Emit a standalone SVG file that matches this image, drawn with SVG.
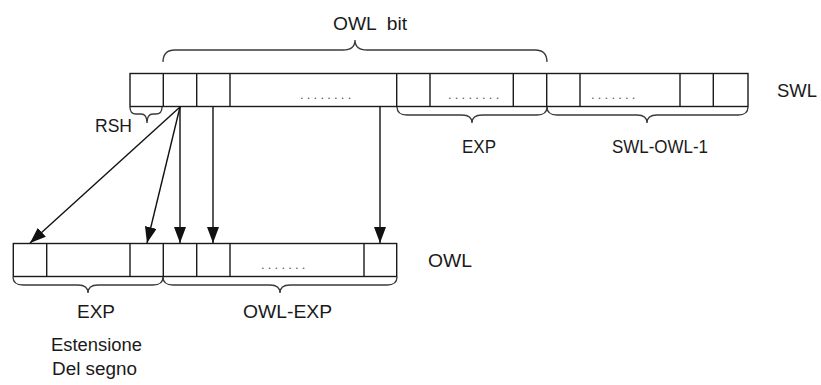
<svg xmlns="http://www.w3.org/2000/svg" width="821" height="385" viewBox="0 0 821 385">
<style>
.bg{fill:#ffffff}
.cell{fill:none;stroke:#1a1a1a;stroke-width:1.4}
.brace{fill:none;stroke:#3a3a3a;stroke-width:1.3}
.arrow{fill:none;stroke:#111111;stroke-width:1.4}
.lbl{font-family:"Liberation Sans",Arial,sans-serif;font-size:18px;fill:#1a1a1a}
.dots{font-family:"Liberation Sans",Arial,sans-serif;font-size:13px;fill:#555555;letter-spacing:3.2px}
</style>
<defs>
<marker id="ah" markerUnits="userSpaceOnUse" markerWidth="16" markerHeight="12" refX="16" refY="6" orient="auto">
<path d="M0,0 L16,6 L0,12 z" fill="#111111"/>
</marker>
</defs>
<rect class="bg" x="0" y="0" width="821" height="385"/>

<g id="swl-register">
<rect class="cell" x="130" y="73.5" width="618" height="33"/>
<path class="cell" d="M163.3,73.5V106.5M196.7,73.5V106.5M230,73.5V106.5M396.7,73.5V106.5M430,73.5V106.5M513.3,73.5V106.5M546.7,73.5V106.5M580,73.5V106.5M680,73.5V106.5M713.3,73.5V106.5"/>
<text class="dots" x="300" y="99">........</text>
<text class="dots" x="448" y="99">........</text>
<text class="dots" x="591" y="99">.......</text>
<text class="lbl" x="777" y="97" textLength="40" lengthAdjust="spacingAndGlyphs">SWL</text>
</g>

<g id="owl-register">
<rect class="cell" x="13.3" y="243.5" width="383.4" height="33"/>
<path class="cell" d="M46.7,243.5V276.5M130,243.5V276.5M163.3,243.5V276.5M196.7,243.5V276.5M230,243.5V276.5M364,243.5V276.5"/>
<text class="dots" x="261" y="269">.......</text>
<text class="lbl" x="428" y="267" textLength="44" lengthAdjust="spacingAndGlyphs">OWL</text>
</g>

<g id="brace-owlbit">
<path class="brace" d="M163,62 Q163,50 175,50 L343,50 Q355,50 355,40 Q355,50 367,50 L535,50 Q547,50 547,62"/>
<text class="lbl" x="333" y="30" textLength="74" lengthAdjust="spacingAndGlyphs" xml:space="preserve">OWL  bit</text>
</g>

<g id="brace-rsh">
<path class="brace" d="M130,107 Q130,114 136,114 L141,114 Q147,114 147,123 Q147,114 153,114 L156,114 Q162,114 162,107"/>
<text class="lbl" x="95" y="132" textLength="37" lengthAdjust="spacingAndGlyphs">RSH</text>
</g>

<g id="brace-exp-top">
<path class="brace" d="M397,107 Q397,115 407,115 L462,115 Q472,115 472,123 Q472,115 482,115 L537,115 Q547,115 547,107"/>
<text class="lbl" x="462" y="153" textLength="34" lengthAdjust="spacingAndGlyphs">EXP</text>
</g>

<g id="brace-swl-owl-1">
<path class="brace" d="M547,107 Q547,115 557,115 L637,115 Q647,115 647,123 Q647,115 657,115 L738,115 Q748,115 748,107"/>
<text class="lbl" x="612" y="153" textLength="96" lengthAdjust="spacingAndGlyphs">SWL-OWL-1</text>
</g>

<g id="brace-exp-bottom">
<path class="brace" d="M13,277 Q13,285 23,285 L78,285 Q88,285 88,293 Q88,285 98,285 L153,285 Q163,285 163,277"/>
<text class="lbl" x="77" y="318" textLength="38" lengthAdjust="spacingAndGlyphs">EXP</text>
<text class="lbl" x="51" y="351" textLength="91" lengthAdjust="spacingAndGlyphs">Estensione</text>
<text class="lbl" x="52" y="375" textLength="85" lengthAdjust="spacingAndGlyphs">Del segno</text>
</g>

<g id="brace-owl-exp">
<path class="brace" d="M163,277 Q163,285 173,285 L270,285 Q280,285 280,293 Q280,285 290,285 L387,285 Q397,285 397,277"/>
<text class="lbl" x="243" y="318" textLength="89" lengthAdjust="spacingAndGlyphs">OWL-EXP</text>
</g>

<g id="connectors">
<line class="arrow" x1="180" y1="107" x2="30" y2="243" marker-end="url(#ah)"/>
<line class="arrow" x1="180" y1="107" x2="147" y2="243" marker-end="url(#ah)"/>
<line class="arrow" x1="180" y1="107" x2="180" y2="243" marker-end="url(#ah)"/>
<line class="arrow" x1="213" y1="107" x2="213" y2="243" marker-end="url(#ah)"/>
<line class="arrow" x1="380" y1="107" x2="380" y2="243" marker-end="url(#ah)"/>
</g>
</svg>
